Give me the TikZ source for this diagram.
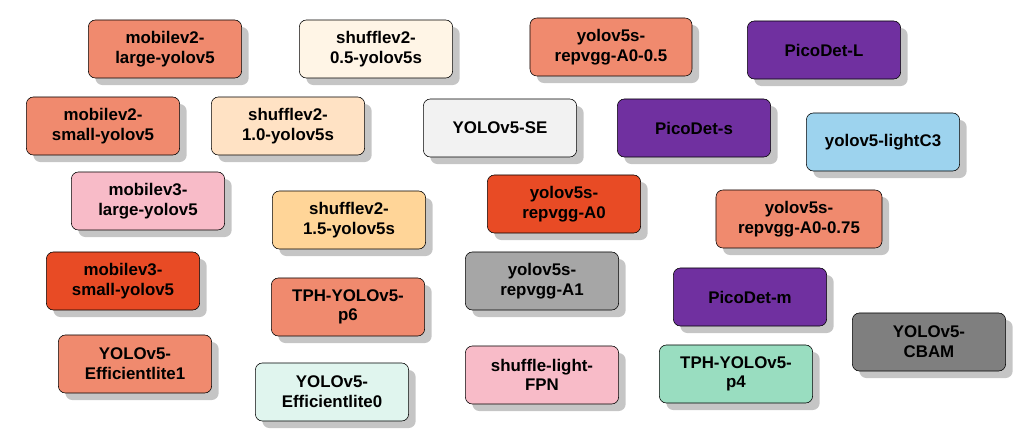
\documentclass[tikz,border=0pt]{standalone}
\usepackage{fontspec}
\setmainfont{Liberation Sans}
\usetikzlibrary{shadows}

\definecolor{salmon}{HTML}{F08A6E}
\definecolor{cream}{HTML}{FFF5E6}
\definecolor{peach}{HTML}{FFE2C4}
\definecolor{apricot}{HTML}{FFD598}
\definecolor{pico}{HTML}{7030A0}
\definecolor{skyblue}{HTML}{9DD3EE}
\definecolor{rosepink}{HTML}{F8BBC8}
\definecolor{redorange}{HTML}{E84B25}
\definecolor{lightgray}{HTML}{F2F2F2}
\definecolor{midgray}{HTML}{A6A6A6}
\definecolor{darkgray}{HTML}{7F7F7F}
\definecolor{palemint}{HTML}{E0F5EE}
\definecolor{mint}{HTML}{99DDC0}

\begin{document}
\begin{tikzpicture}[x=0.025cm, y=-0.025cm,
    model/.style={draw=black, rounded corners=5pt, minimum width=3.83cm,
        minimum height=1.45cm, align=center, inner sep=2pt,
        font=\fontsize{12}{14}\selectfont\bfseries,
        drop shadow={shadow xshift=5pt, shadow yshift=-5pt, fill=black!45}}]
    \useasboundingbox (0,0) rectangle (1028,442);
    % Row-ish layout of the model boxes
    \node[model, fill=salmon]    (mv2l)  at (165,49)  {mobilev2-\\large-yolov5};
    \node[model, fill=cream]     (sv205) at (376,49)  {shufflev2-\\0.5-yolov5s};
    \node[model, fill=salmon, minimum width=4.05cm] (rva005) at (611,47) {yolov5s-\\repvgg-A0-0.5};
    \node[model, fill=pico]      (pdl)   at (824,50)  {PicoDet-L};
    \node[model, fill=salmon]    (mv2s)  at (103,126) {mobilev2-\\small-yolov5};
    \node[model, fill=peach]     (sv210) at (288,126) {shufflev2-\\1.0-yolov5s};
    \node[model, fill=lightgray] (se)    at (500,128) {YOLOv5-SE};
    \node[model, fill=pico]      (pds)   at (694,128) {PicoDet-s};
    \node[model, fill=skyblue]   (lc3)   at (883,142) {yolov5-lightC3};
    \node[model, fill=rosepink]  (mv3l)  at (148,201) {mobilev3-\\large-yolov5};
    \node[model, fill=apricot]   (sv215) at (349,220) {shufflev2-\\1.5-yolov5s};
    \node[model, fill=redorange] (rva0)  at (564,204) {yolov5s-\\repvgg-A0};
    \node[model, fill=salmon, minimum width=4.15cm] (rva075) at (799,219) {yolov5s-\\repvgg-A0-0.75};
    \node[model, fill=redorange] (mv3s)  at (123,281) {mobilev3-\\small-yolov5};
    \node[model, fill=salmon]    (tph6)  at (348,307) {TPH-YOLOv5-\\p6};
    \node[model, fill=midgray]   (rva1)  at (542,281) {yolov5s-\\repvgg-A1};
    \node[model, fill=pico]      (pdm)   at (750,297) {PicoDet-m};
    \node[model, fill=darkgray]  (cbam)  at (929,342) {YOLOv5-\\CBAM};
    \node[model, fill=salmon]    (eff1)  at (135,364) {YOLOv5-\\Efficientlite1};
    \node[model, fill=palemint]  (eff0)  at (332,392) {YOLOv5-\\Efficientlite0};
    \node[model, fill=rosepink]  (slfpn) at (542,375) {shuffle-light-\\FPN};
    \node[model, fill=mint]      (tph4)  at (736,374) {TPH-YOLOv5-\\p4};
\end{tikzpicture}
\end{document}
